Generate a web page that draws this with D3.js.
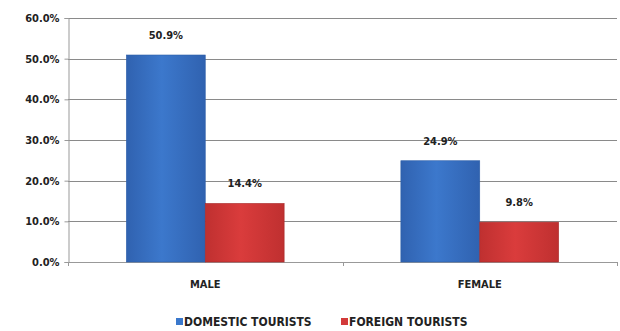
<!DOCTYPE html>
<html>
<head>
<meta charset="utf-8" />
<script src="https://cdn.jsdelivr.net/npm/d3@7"></script>
<style>
  body { margin: 0; background: #fff; }
  svg text { font-family: "Liberation Sans Narrow", "DejaVu Sans Condensed", sans-serif; font-weight: bold; fill: #222; }
</style>
</head>
<body>
<svg width="620" height="331"></svg>
<script>
var categories = ["MALE", "FEMALE"];
var seriesNames = ["DOMESTIC TOURISTS", "FOREIGN TOURISTS"];
var domestic = [50.9, 24.9];
var foreign = [14.4, 9.8];
var yTicks = [0, 10, 20, 30, 40, 50, 60];

var svg = d3.select("svg");
var plotLeft = 68, plotRight = 617, plotTop = 18, plotBottom = 262;

var x = d3.scaleBand().domain(categories).range([plotLeft, plotRight]).paddingInner(0).paddingOuter(0);
var inner = d3.scaleBand().domain([0, 1]).range([0, x.bandwidth()]).paddingInner(0).paddingOuter(0.74);
var y = d3.scaleLinear().domain([0, 60]).range([plotBottom, plotTop]);

var defs = svg.append("defs");
function grad(id, c1, c2) {
  var g = defs.append("linearGradient").attr("id", id).attr("x1", 0).attr("x2", 1).attr("y1", 0).attr("y2", 0);
  g.append("stop").attr("offset", "0%").attr("stop-color", c2);
  g.append("stop").attr("offset", "45%").attr("stop-color", c1);
  g.append("stop").attr("offset", "100%").attr("stop-color", c2);
}
grad("gBlue", "#3c78cc", "#3062b0");
grad("gRed", "#da3c3c", "#bf3030");
var fills = ["url(#gBlue)", "url(#gRed)"];
var legendColors = ["#3a78cc", "#d23a3a"];

// gridlines
svg.append("g").selectAll("line").data(yTicks).enter().append("line")
  .attr("x1", plotLeft).attr("x2", plotRight)
  .attr("y1", function (d) { return Math.round(y(d)) + 0.5; })
  .attr("y2", function (d) { return Math.round(y(d)) + 0.5; })
  .attr("stroke", function (d) { return d === 0 ? "#999" : "#8a8a8a"; })
  .attr("stroke-width", 1);

// y axis
var yAxis = d3.axisLeft(y).tickValues(yTicks).tickSize(4)
  .tickFormat(function (d) { return d.toFixed(1) + "%"; });
var ya = svg.append("g").attr("transform", "translate(" + (plotLeft + 0.5) + ",0)").call(yAxis);
ya.select(".domain").attr("stroke", "#999");
ya.selectAll(".tick line").attr("stroke", "#999");
ya.selectAll("text").attr("font-size", 11).attr("x", -9).attr("fill", "#222");

// x axis
var xAxis = d3.axisBottom(x).tickSize(0);
var xa = svg.append("g").attr("transform", "translate(0," + (plotBottom + 0.5) + ")").call(xAxis);
xa.select(".domain").remove();
xa.selectAll("text").attr("font-size", 11).attr("dy", "2.05em").attr("fill", "#222");
// category separators
svg.append("g").selectAll("line").data([x.range()[0], x(categories[1]), x.range()[1]]).enter().append("line")
  .attr("x1", function (d) { return Math.round(d) + 0.5; })
  .attr("x2", function (d) { return Math.round(d) + 0.5; })
  .attr("y1", plotBottom).attr("y2", plotBottom + 4)
  .attr("stroke", "#999");

var series = [domestic, foreign];
series.forEach(function (vals, si) {
  var g = svg.append("g");
  g.selectAll("rect").data(vals).enter().append("rect")
    .attr("x", function (d, i) { return x(categories[i]) + inner(si); })
    .attr("y", function (d) { return y(d); })
    .attr("width", inner.bandwidth())
    .attr("height", function (d) { return y(0) - y(d); })
    .attr("fill", fills[si])
    .attr("stroke", si === 0 ? "#2d5ea8" : "#a82a2a")
    .attr("stroke-width", 0.6);
  g.selectAll("text").data(vals).enter().append("text")
    .attr("x", function (d, i) { return x(categories[i]) + inner(si) + inner.bandwidth() / 2; })
    .attr("y", function (d) { return y(d) - 16; })
    .attr("text-anchor", "middle")
    .attr("font-size", 11)
    .text(function (d) { return d.toFixed(1) + "%"; });
});

// legend
var legend = svg.append("g").attr("transform", "translate(0,322)");
var lx = [176, 341];
seriesNames.forEach(function (name, i) {
  legend.append("rect").attr("x", lx[i]).attr("y", -4).attr("width", 7).attr("height", 7)
    .attr("fill", legendColors[i]);
  legend.append("text").attr("x", lx[i] + 8).attr("y", 4).attr("font-size", 12).text(name);
});
</script>
</body>
</html>
